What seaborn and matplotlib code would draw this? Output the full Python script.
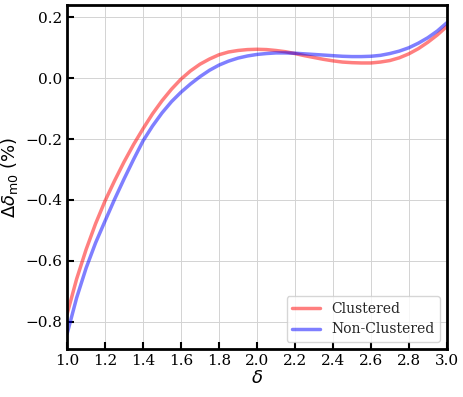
import matplotlib
matplotlib.use("Agg")
import matplotlib.pyplot as plt
import seaborn as sns
import pandas as pd

delta = [1.00, 1.05, 1.10, 1.15, 1.20, 1.25, 1.30, 1.35, 1.40, 1.45,
         1.50, 1.55, 1.60, 1.65, 1.70, 1.75, 1.80, 1.85, 1.90, 1.95,
         2.00, 2.05, 2.10, 2.15, 2.20, 2.25, 2.30, 2.35, 2.40, 2.45,
         2.50, 2.55, 2.60, 2.65, 2.70, 2.75, 2.80, 2.85, 2.90, 2.95, 3.00]
clustered = [-0.775, -0.660, -0.563, -0.478, -0.403, -0.337, -0.275, -0.218, -0.166, -0.117,
             -0.074, -0.036, -0.003, 0.024, 0.046, 0.063, 0.077, 0.086, 0.091, 0.094,
             0.095, 0.094, 0.091, 0.087, 0.081, 0.074, 0.068, 0.062, 0.057, 0.053,
             0.051, 0.050, 0.050, 0.053, 0.058, 0.067, 0.080, 0.097, 0.118, 0.142, 0.170]
non_clustered = [-0.840, -0.722, -0.624, -0.541, -0.469, -0.398, -0.331, -0.267, -0.206, -0.157,
                 -0.114, -0.077, -0.046, -0.019, 0.005, 0.026, 0.043, 0.056, 0.066, 0.073,
                 0.078, 0.081, 0.083, 0.083, 0.082, 0.080, 0.078, 0.076, 0.074, 0.072,
                 0.071, 0.071, 0.072, 0.075, 0.081, 0.089, 0.100, 0.115, 0.133, 0.155, 0.182]

df = pd.concat([
    pd.DataFrame({"delta": delta, "value": clustered, "group": "Clustered"}),
    pd.DataFrame({"delta": delta, "value": non_clustered, "group": "Non-Clustered"}),
])

sns.set_style("ticks")
plt.rcParams["font.family"] = ["DejaVu Serif"]
plt.rcParams["mathtext.fontset"] = "dejavusans"

fig = plt.figure(figsize=(4.63, 3.97), dpi=100)
ax = fig.add_axes([0.145, 0.121, 0.82, 0.866])

sns.lineplot(data=df, x="delta", y="value", hue="group",
             palette={"Clustered": "red", "Non-Clustered": "blue"},
             alpha=0.5, linewidth=2.5, ax=ax)

ax.set_xlim(1.0, 3.0)
ax.set_ylim(-0.89, 0.24)
ax.set_xticks([1.0, 1.2, 1.4, 1.6, 1.8, 2.0, 2.2, 2.4, 2.6, 2.8, 3.0])
ax.set_yticks([-0.8, -0.6, -0.4, -0.2, 0.0, 0.2])
ax.grid(True, color="#d3d3d3", linewidth=0.7)
ax.tick_params(direction="in", length=5, width=1.5, labelsize=11,
               color="black", labelcolor="black")
for s in ax.spines.values():
    s.set_linewidth(2)
    s.set_color("black")

ax.set_xlabel(r"$\delta$", fontsize=13, family="DejaVu Sans", labelpad=1, color="black")
ax.set_ylabel(r"$\Delta\delta_{\rm m0}$ (%)", fontsize=13, family="DejaVu Sans", color="black")
ax.legend(title=None, loc="lower right", fontsize=10, framealpha=0.8)

fig.savefig("out.png")
